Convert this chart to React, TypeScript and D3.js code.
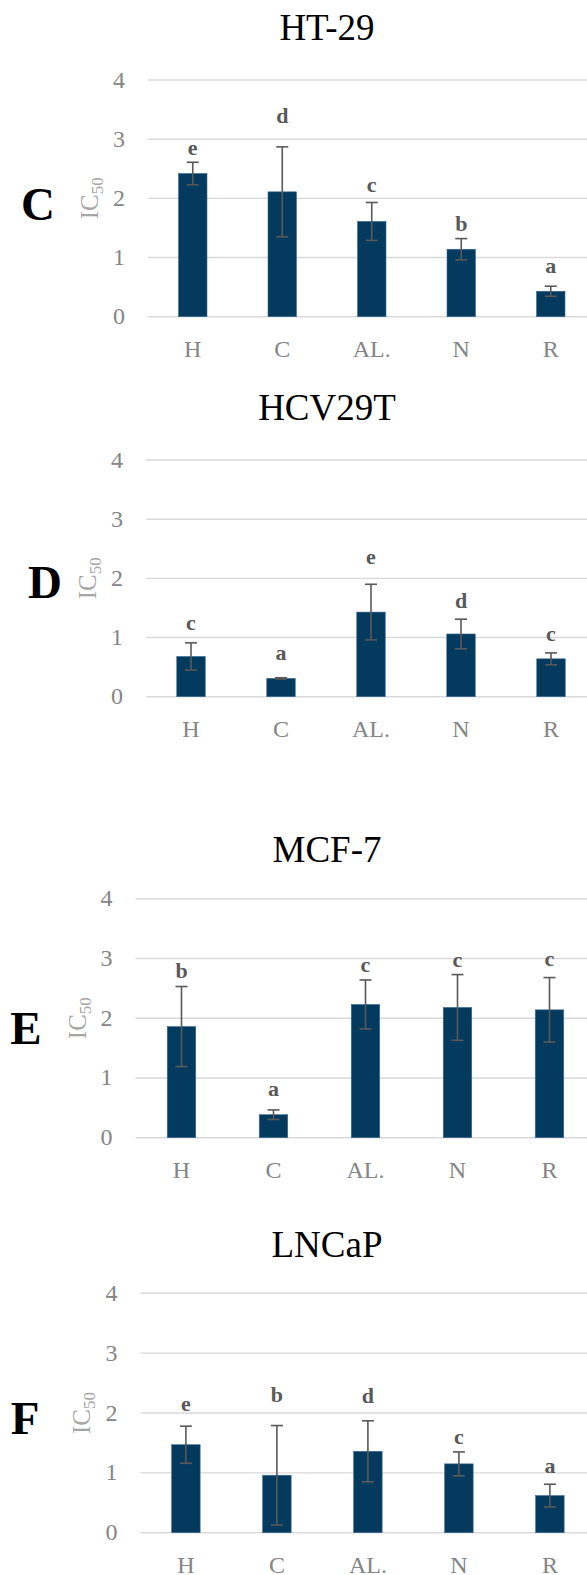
import { useEffect, useRef } from "react"
import * as d3 from 'd3'

const categories = ['H', 'C', 'AL.', 'N', 'R']
const yTicks = [0, 1, 2, 3, 4]

// HT-29
const htMeans = [2.42, 2.11, 1.61, 1.14, 0.43]
const htErrors = [0.19, 0.76, 0.32, 0.18, 0.085]
const htLetters = ['e', 'd', 'c', 'b', 'a']
const htLetterY = [2.73, 3.27, 2.11, 1.45, 0.74]

// HCV29T
const hcvMeans = [0.68, 0.31, 1.43, 1.06, 0.64]
const hcvErrors = [0.23, 0.01, 0.47, 0.25, 0.1]
const hcvLetters = ['c', 'a', 'e', 'd', 'c']
const hcvLetterY = [1.12, 0.62, 2.24, 1.5, 0.94]

// MCF-7
const mcfMeans = [1.86, 0.385, 2.23, 2.18, 2.14]
const mcfErrors = [0.67, 0.08, 0.41, 0.55, 0.54]
const mcfLetters = ['b', 'a', 'c', 'c', 'c']
const mcfLetterY = [2.67, 0.69, 2.78, 2.85, 2.88]

// LNCaP
const lnMeans = [1.47, 0.96, 1.36, 1.15, 0.62]
const lnErrors = [0.31, 0.83, 0.51, 0.2, 0.19]
const lnLetters = ['e', 'b', 'd', 'c', 'a']
const lnLetterY = [2.04, 2.18, 2.16, 1.49, 0.99]

const panels = [
  { title: 'HT-29', tag: 'C', means: htMeans, errors: htErrors, letters: htLetters, letterY: htLetterY,
    x0: 148, step: 89.5, top: 80, zero: 316.7, titleY: 40, tagX: 38, tagY: 220 },
  { title: 'HCV29T', tag: 'D', means: hcvMeans, errors: hcvErrors, letters: hcvLetters, letterY: hcvLetterY,
    x0: 146, step: 90, top: 460, zero: 696.7, titleY: 420, tagX: 45, tagY: 598 },
  { title: 'MCF-7', tag: 'E', means: mcfMeans, errors: mcfErrors, letters: mcfLetters, letterY: mcfLetterY,
    x0: 135.5, step: 92, top: 898.7, zero: 1137.7, titleY: 861.5, tagX: 26, tagY: 1044 },
  { title: 'LNCaP', tag: 'F', means: lnMeans, errors: lnErrors, letters: lnLetters, letterY: lnLetterY,
    x0: 140.4, step: 91, top: 1293.3, zero: 1532.7, titleY: 1256.5, tagX: 25, tagY: 1434 },
]

const W = 587
const H = 1575
const font = '"Liberation Serif", "Times New Roman", serif'

export default function App() {
  const svgRef = useRef<SVGSVGElement>(null)

  useEffect(() => {
    if (!svgRef.current) return
    const svg = d3.select(svgRef.current)
    svg.selectAll('*').remove()

    panels.forEach(p => {
      const g = svg.append('g')
      const barPad = 1 - 28.5 / p.step
      const x = d3.scaleBand<string>()
        .domain(categories)
        .range([p.x0, p.x0 + p.step * categories.length])
        .paddingInner(barPad)
        .paddingOuter(barPad / 2)
      const y = d3.scaleLinear().domain([0, 4]).range([p.zero, p.top])

      // gridlines
      g.selectAll('line.grid')
        .data(yTicks)
        .join('line')
        .attr('x1', p.x0)
        .attr('x2', W)
        .attr('y1', d => y(d))
        .attr('y2', d => y(d))
        .attr('stroke', '#d9d9d9')
        .attr('stroke-width', 1.4)

      // tick labels
      g.selectAll('text.tick')
        .data(yTicks)
        .join('text')
        .attr('x', p.x0 - 29)
        .attr('y', d => y(d) + 7.5)
        .attr('text-anchor', 'middle')
        .attr('font-family', font)
        .attr('font-size', 24)
        .attr('fill', '#858585')
        .text(d => d)

      // bars
      g.selectAll('rect.bar')
        .data(p.means)
        .join('rect')
        .attr('x', (d, i) => x(categories[i]) as number)
        .attr('width', x.bandwidth())
        .attr('y', d => y(d))
        .attr('height', d => p.zero - y(d))
        .attr('fill', '#053a5f')
        .attr('stroke', '#3d6d93')
        .attr('stroke-width', 0.6)

      // error bars
      const cx = (i: number) => (x(categories[i]) as number) + x.bandwidth() / 2
      p.means.forEach((m, i) => {
        const e = p.errors[i]
        const eg = g.append('g').attr('stroke', '#595959').attr('stroke-width', 1.6)
        eg.append('line').attr('x1', cx(i)).attr('x2', cx(i)).attr('y1', y(m - e)).attr('y2', y(m + e))
        eg.append('line').attr('x1', cx(i) - 6).attr('x2', cx(i) + 6).attr('y1', y(m + e)).attr('y2', y(m + e))
        eg.append('line').attr('x1', cx(i) - 6).attr('x2', cx(i) + 6).attr('y1', y(m - e)).attr('y2', y(m - e))
      })

      // significance letters
      g.selectAll('text.sig')
        .data(p.letters)
        .join('text')
        .attr('x', (d, i) => cx(i))
        .attr('y', (d, i) => y(p.letterY[i]))
        .attr('text-anchor', 'middle')
        .attr('font-family', font)
        .attr('font-size', 22)
        .attr('font-weight', 'bold')
        .attr('fill', '#595959')
        .text(d => d)

      // category labels
      g.selectAll('text.cat')
        .data(categories)
        .join('text')
        .attr('x', d => (x(d) as number) + x.bandwidth() / 2)
        .attr('y', p.zero + 40.5)
        .attr('text-anchor', 'middle')
        .attr('font-family', font)
        .attr('font-size', 24)
        .attr('fill', '#858585')
        .text(d => d)

      // title
      g.append('text')
        .attr('x', 327)
        .attr('y', p.titleY)
        .attr('text-anchor', 'middle')
        .attr('font-family', font)
        .attr('font-size', 37)
        .attr('fill', '#000')
        .text(p.title)

      // y axis label
      const yl = g.append('text')
        .attr('transform', `translate(${p.x0 - 50},${(p.top + p.zero) / 2}) rotate(-90)`)
        .attr('text-anchor', 'middle')
        .attr('font-family', font)
        .attr('fill', '#a6a6a6')
      yl.append('tspan').attr('font-size', 25).text('IC')
      yl.append('tspan').attr('font-size', 17).attr('dy', 5).text('50')

      // panel tag
      g.append('text')
        .attr('x', p.tagX)
        .attr('y', p.tagY)
        .attr('text-anchor', 'middle')
        .attr('font-family', font)
        .attr('font-size', 47)
        .attr('font-weight', 'bold')
        .attr('fill', '#000')
        .text(p.tag)
    })
  }, [])

  return (
    <svg ref={svgRef} width={W} height={H}
      style={{ position: 'absolute', left: 0, top: 0, display: 'block', background: '#fff' }}></svg>
  )
}
